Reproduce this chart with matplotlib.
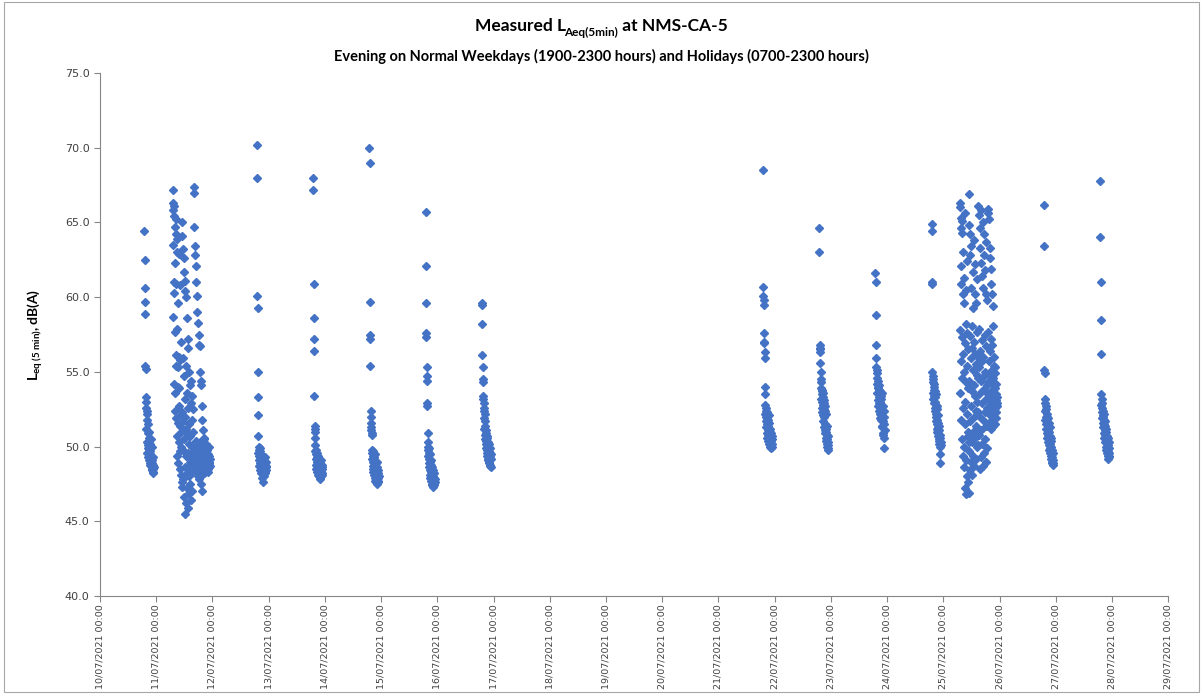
import matplotlib
matplotlib.use("Agg")
import matplotlib.pyplot as plt
import matplotlib.dates as mdates
from matplotlib.patches import Rectangle
import pandas as pd

plt.rcParams['mathtext.fontset'] = 'custom'
plt.rcParams['mathtext.rm'] = 'Lato:bold'
plt.rcParams['mathtext.it'] = 'Lato:bold'
plt.rcParams['mathtext.bf'] = 'Lato:bold'
plt.rcParams['mathtext.default'] = 'rm'

# Measured Leq(5min) values, one list per evening / holiday period (5-min steps)
eve_1007 = [64.4, 62.5, 60.6, 59.7, 58.9, 55.4, 55.2, 53.3,
            53.0, 52.6, 51.2, 52.4, 50.3, 51.8, 49.6, 52.2, 50.9, 49.9, 51.5, 50.1, 49.3, 50.6, 49.8, 51.0,
            49.1, 50.4, 49.5, 48.9, 50.2, 49.7, 48.8, 49.4, 50.5, 48.7, 49.0, 49.2, 48.6, 50.0, 48.5, 49.1,
            48.4, 48.9, 48.8, 48.3, 49.3, 48.5, 48.2, 48.6]

hol_1107 = [67.2, 63.5, 66.3, 58.7, 65.8, 61.0, 54.2, 66.1, 60.3, 65.4, 53.6, 64.7, 57.7, 62.3, 52.4, 65.2,
            56.1, 60.9, 51.9, 64.2, 55.4, 63.9, 50.7, 57.9, 49.4, 63.0, 54.0, 59.6, 51.6, 55.3, 48.9, 62.9,
            53.9, 50.3, 56.0, 52.7, 49.7, 60.8, 51.4, 48.5, 55.8, 52.1, 50.0, 57.0, 51.0, 48.1, 47.6, 47.3,
            65.0, 52.3, 64.1, 49.8, 55.9, 63.2, 47.8, 51.7, 62.6, 46.6, 54.7, 61.7, 50.5, 45.5, 53.2, 61.1,
            48.6, 52.0, 60.4, 46.2, 55.4, 49.4, 60.0, 51.2, 47.2, 58.6, 53.6, 48.2, 50.9, 57.2, 45.9, 49.6,
            52.6, 56.6, 48.0, 50.2, 55.0, 46.9, 51.5, 49.0, 54.1, 47.5, 50.7, 48.8, 52.9, 46.4, 49.2, 54.4,
            48.4, 50.0, 47.0, 53.4, 48.3, 51.8, 49.1, 52.5, 50.1, 49.5, 51.0, 48.7,
            67.4, 49.7, 67.0, 48.9, 64.7, 50.2, 48.4, 63.4, 49.3, 62.8, 48.7, 50.4, 62.1, 49.0, 61.0, 48.2,
            49.9, 60.1, 48.5, 59.0, 49.5, 50.0, 58.3, 48.0, 49.2, 57.5, 48.6, 56.8, 49.8, 47.8, 56.7, 48.9,
            50.3, 55.0, 48.3, 49.4, 54.4, 47.5, 48.8, 54.1, 49.6, 48.1, 52.7, 49.1, 47.0, 51.8, 48.6, 50.1,
            51.1, 48.4, 49.7, 50.6, 48.9, 49.3, 48.2, 50.5, 48.7, 49.9, 48.3, 49.4, 48.5, 50.2, 49.0, 48.8,
            49.6, 48.6, 49.2, 48.4, 49.8, 48.9, 49.1, 48.5, 49.5, 48.7, 49.3, 48.3, 50.0, 48.8, 49.0, 48.6,
            49.4, 48.9, 49.2, 48.7]

eve_1207 = [70.2, 68.0, 60.1, 59.3, 55.0, 53.3, 52.1, 50.7,
            49.6, 50.0, 49.1, 49.8, 48.7, 49.4, 49.9, 48.9, 49.3, 48.4, 49.7, 48.8, 49.0, 48.2, 49.5, 48.6,
            49.2, 47.9, 48.9, 48.5, 49.4, 48.1, 48.7, 49.0, 48.3, 47.6, 48.6, 49.1, 48.0, 48.4, 48.8, 48.2,
            49.3, 48.5, 48.9, 48.3, 48.6, 49.0, 48.4, 48.7]

eve_1307 = [68.0, 67.2, 60.9, 58.6, 57.2, 56.4, 53.4, 51.4, 51.2, 51.0, 50.6, 50.1,
            49.7, 49.2, 49.8, 48.8, 49.5, 48.5, 49.3, 49.0, 48.3, 49.6, 48.7, 49.1, 48.1, 48.9, 49.4, 48.4,
            48.0, 48.8, 49.0, 48.2, 48.6, 47.9, 48.9, 48.5, 47.8, 48.7, 48.3, 49.1, 48.6, 48.0, 48.4, 48.8,
            48.2, 48.5, 48.1, 48.6]

eve_1407 = [70.0, 69.0, 59.7, 57.5, 57.2, 55.4, 52.4, 52.0, 51.6, 51.3, 51.1, 50.9, 50.8,
            49.8, 49.2, 49.6, 48.7, 49.4, 48.3, 49.0, 49.7, 48.5, 48.9, 49.3, 48.1, 48.6, 49.1, 47.9, 48.8,
            48.2, 49.5, 47.7, 48.4, 48.0, 48.9, 47.6, 48.5, 47.8, 48.3, 49.0, 47.5, 48.6, 47.9, 48.2, 47.7,
            48.4, 47.6, 48.0]

eve_1507 = [65.7, 62.1, 59.6, 57.6, 57.3, 55.3, 54.7, 54.4, 52.9, 52.7, 50.9, 50.3,
            50.0, 49.4, 49.8, 48.9, 49.6, 48.6, 49.2, 49.9, 48.4, 49.0, 48.1, 49.5, 48.7, 47.9, 48.8, 49.1,
            48.3, 47.7, 48.5, 48.0, 47.5, 48.6, 48.2, 47.4, 47.8, 48.4, 47.6, 47.3, 48.0, 47.9, 47.5, 48.2,
            47.7, 47.4, 47.8, 47.6]

eve_1607 = [59.6, 59.5, 58.2, 56.1, 55.3, 54.5, 54.3, 53.4,
            53.2, 52.4, 52.9, 51.9, 52.6, 51.2, 52.2, 50.8, 51.4, 50.5, 51.7, 50.2, 50.9, 49.9, 51.1, 50.4,
            49.6, 50.7, 49.4, 50.1, 50.6, 49.8, 49.2, 50.3, 49.5, 50.0, 49.1, 49.7, 48.9, 49.3, 50.2, 49.0,
            49.6, 48.8, 49.4, 48.7, 49.9, 49.2, 48.6, 49.5]

eve_2107 = [68.5, 60.7, 60.1, 59.8, 59.5, 57.6, 57.0, 56.9, 56.3, 55.9, 54.0, 53.5,
            52.8, 52.2, 52.6, 51.7, 52.4, 51.3, 52.0, 51.9, 50.9, 51.5, 52.3, 50.6, 51.1, 51.8, 50.4, 51.4,
            50.8, 52.1, 50.2, 51.0, 51.6, 50.5, 50.0, 51.2, 50.7, 50.3, 51.0, 49.9, 50.6, 50.1, 50.9, 50.4,
            50.0, 50.7, 50.2, 50.5]

eve_2207 = [64.6, 63.0, 56.8, 56.6, 56.5, 56.3, 55.6, 55.0, 54.5, 54.3,
            53.9, 53.2, 53.7, 52.6, 53.5, 53.0, 52.3, 53.8, 52.1, 53.3, 52.8, 51.7, 53.6, 52.5, 53.1, 52.0,
            52.9, 51.3, 52.4, 51.1, 52.7, 51.5, 50.9, 52.2, 51.0, 50.6, 51.2, 50.4, 50.8, 50.2, 51.4, 50.5,
            50.0, 50.7, 49.9, 50.3, 49.8, 50.1]

eve_2307 = [61.6, 61.0, 58.8, 56.8, 55.9, 55.3,
            55.1, 54.2, 54.9, 53.6, 54.6, 53.9, 54.4, 53.1, 54.0, 52.7, 53.8, 52.4, 53.5, 54.1, 52.9, 53.3,
            52.2, 53.7, 52.6, 53.0, 51.9, 53.4, 52.5, 51.8, 53.2, 52.8, 52.1, 51.4, 52.3, 53.6, 51.3, 52.0,
            50.9, 52.7, 50.8, 51.7, 49.9, 52.4, 51.5, 50.6, 52.0, 51.1]

eve_2407 = [64.9, 64.4, 61.0, 60.9,
            55.0, 54.3, 54.7, 53.6, 54.5, 53.2, 54.0, 53.8, 52.9, 54.2, 53.4, 52.6, 53.0, 53.7, 52.4, 53.3,
            52.0, 52.8, 51.7, 53.5, 52.2, 51.5, 52.7, 51.8, 51.2, 52.5, 51.0, 51.6, 50.7, 52.1, 50.9, 51.3,
            50.5, 51.4, 50.2, 51.1, 50.4, 50.8, 49.5, 50.6, 50.0, 48.9, 50.3, 50.1]

hol_2507 = [66.3, 57.8, 66.0, 53.6, 65.3, 60.9, 55.7, 64.6, 51.8, 62.1, 57.3, 65.1, 50.5, 54.6, 64.3, 60.2,
            56.2, 49.4, 63.0, 52.6, 59.6, 48.6, 55.0, 61.3, 50.0, 56.9, 47.2, 53.0, 65.6, 51.5, 58.2, 46.8,
            54.3, 60.5, 49.1, 52.2, 57.6, 48.0, 55.4, 62.4, 50.7, 53.9, 47.6, 56.5, 51.0, 64.8, 46.9, 50.3,
            66.9, 54.4, 49.7, 62.8, 57.4, 51.7, 64.2, 48.4, 55.9, 60.6, 52.7, 49.0, 63.4, 56.6, 50.3, 58.1,
            53.7, 48.1, 61.7, 55.1, 51.0, 59.3, 49.4, 54.1, 63.8, 52.0, 57.0, 48.7, 60.2, 53.4, 50.6, 56.2,
            62.2, 51.4, 49.2, 55.5, 59.6, 52.4, 50.0, 57.7, 54.8, 61.2, 51.2, 53.0, 50.1, 56.0, 52.3, 54.6,
            66.1, 53.5, 57.9, 65.5, 50.8, 55.3, 64.6, 52.0, 48.5, 63.3, 56.4, 51.1, 62.3, 54.4, 49.3, 65.8,
            57.1, 52.9, 61.4, 50.2, 55.7, 60.6, 48.7, 53.8, 65.0, 56.0, 51.7, 64.2, 49.6, 54.7, 62.8, 52.3,
            57.5, 61.8, 50.5, 55.0, 63.7, 49.0, 53.2, 60.2, 56.7, 51.4, 59.8, 54.1, 49.9, 52.6, 53.6, 51.4,
            65.9, 54.3, 57.7, 65.6, 52.2, 55.7, 65.2, 53.4, 51.6, 63.3, 56.4, 52.8, 62.6, 54.8, 51.2, 61.9,
            57.2, 53.0, 60.9, 55.1, 51.8, 60.2, 53.8, 56.8, 59.4, 52.4, 54.6, 58.1, 51.4, 55.4, 53.6, 56.0,
            52.0, 54.1, 53.2, 55.3, 51.5, 53.9, 52.6, 54.9, 53.1, 52.3, 54.2, 51.9, 53.5, 52.7, 53.3, 52.9]

eve_2607 = [66.2, 63.4, 55.1, 54.9,
            53.2, 52.4, 52.9, 51.8, 52.7, 52.0, 51.5, 52.5, 51.2, 52.2, 50.9, 51.7, 52.0, 50.6, 51.4, 50.3,
            51.9, 50.8, 51.1, 50.1, 51.6, 50.5, 49.8, 51.0, 50.2, 49.6, 50.7, 49.9, 51.3, 49.4, 50.4, 49.7,
            50.0, 49.2, 50.6, 49.5, 49.0, 49.8, 48.9, 49.3, 48.8, 49.6, 49.1, 48.9]

eve_2707 = [67.8, 64.0, 61.0, 58.5, 56.2,
            53.5, 52.8, 53.2, 52.3, 52.9, 51.9, 52.6, 52.1, 51.6, 52.4, 51.3, 52.0, 51.8, 50.9, 51.5, 52.2,
            50.6, 51.1, 51.7, 50.3, 51.4, 50.8, 50.0, 51.0, 50.5, 49.8, 51.2, 50.2, 49.6, 50.7, 49.9, 50.4,
            49.4, 50.1, 49.7, 49.2, 50.6, 49.5, 49.9, 49.3, 50.3, 49.6, 49.4]

# start of each measurement period: evenings from 19:00, holidays from 07:00
periods = [
    ("2021-07-10 19:00", eve_1007),
    ("2021-07-11 07:00", hol_1107),
    ("2021-07-12 19:00", eve_1207),
    ("2021-07-13 19:00", eve_1307),
    ("2021-07-14 19:00", eve_1407),
    ("2021-07-15 19:00", eve_1507),
    ("2021-07-16 19:00", eve_1607),
    ("2021-07-21 19:00", eve_2107),
    ("2021-07-22 19:00", eve_2207),
    ("2021-07-23 19:00", eve_2307),
    ("2021-07-24 19:00", eve_2407),
    ("2021-07-25 07:00", hol_2507),
    ("2021-07-26 19:00", eve_2607),
    ("2021-07-27 19:00", eve_2707),
]

frames = []
for start, vals in periods:
    t = pd.date_range(start, periods=len(vals), freq="5min")
    frames.append(pd.DataFrame({"time": t, "leq": vals}))
df = pd.concat(frames, ignore_index=True)

fig = plt.figure(figsize=(12.03, 6.94), dpi=100)
ax = fig.add_axes([0.0831, 0.1412, 0.888, 0.7536])

ax.plot(df["time"], df["leq"], linestyle="none", marker="D", markersize=4,
        color="#4472C4", markeredgecolor="#4472C4")

ax.set_ylim(40, 75)
ax.set_yticks([40, 45, 50, 55, 60, 65, 70, 75])
ax.yaxis.set_major_formatter(matplotlib.ticker.FormatStrFormatter("%.1f"))
ax.set_xlim(pd.Timestamp("2021-07-10"), pd.Timestamp("2021-07-29"))
ax.xaxis.set_major_locator(mdates.DayLocator())
ax.xaxis.set_major_formatter(mdates.DateFormatter("%d/%m/%Y %H:%M"))

ax.spines["top"].set_visible(False)
ax.spines["right"].set_visible(False)
ax.spines["left"].set_color("#868686")
ax.spines["bottom"].set_color("#868686")
ax.tick_params(axis="both", colors="#868686", length=4, width=0.8, labelcolor="#404040")
ax.tick_params(axis="x", pad=2, labelsize=6.8, labelrotation=90)
ax.tick_params(axis="y", labelsize=8)

ax.set_ylabel(r"$L_{eq\ (5\ min)},dB(A)$", fontsize=10, labelpad=14)

# title built from plain text pieces so the main part stays bold, subscript chained after it
bold = dict(fontweight="bold", family="Lato")
t1 = fig.text(0.4, 0.955, "Measured L", ha="left", va="baseline", fontsize=12.5, **bold)
t2 = ax.annotate("Aeq(5min)", xy=(1, 0), xycoords=t1, xytext=(-1.5, -3), textcoords="offset points",
                 ha="left", va="bottom", fontsize=8.5, annotation_clip=False, **bold)
t3 = ax.annotate(" at NMS-CA-5", xy=(1, 0), xycoords=(t2, t1), ha="left", va="bottom",
                 fontsize=12.5, annotation_clip=False, **bold)
fig.text(0.5, 0.918, "Evening on Normal Weekdays (1900-2300 hours) and Holidays (0700-2300 hours)",
         ha="center", va="center", fontsize=10.5, **bold)

# centre the three title pieces as one line
fig.canvas.draw()
r = fig.canvas.get_renderer()
x0 = t1.get_window_extent(r).x0
x1 = t3.get_window_extent(r).x1
fig_w = fig.bbox.width
t1.set_x((fig_w - (x1 - x0)) / 2 / fig_w)

fig.patches.append(Rectangle((0.003, 0.003), 0.994, 0.994, transform=fig.transFigure,
                             fill=False, edgecolor="#a6a6a6", linewidth=0.8))

fig.savefig("out.png", dpi=100)
